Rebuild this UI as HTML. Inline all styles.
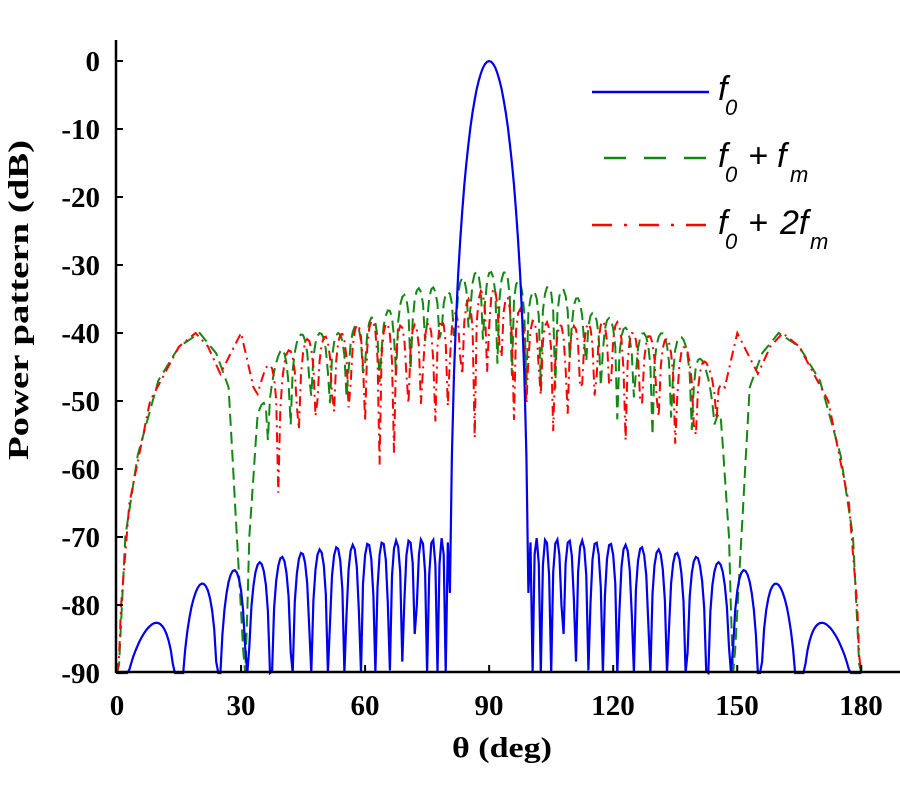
<!DOCTYPE html>
<html><head><meta charset="utf-8"><style>
html,body{margin:0;padding:0;background:#fff;}
svg{display:block;}
.t{font-family:"Liberation Serif",serif;font-weight:bold;font-size:29px;fill:#000;}
.lg{font-family:"Liberation Sans",sans-serif;font-style:italic;font-size:34px;fill:#000;}
.sb{font-family:"Liberation Sans",sans-serif;font-style:italic;font-size:22px;fill:#000;}
</style></head><body>
<svg id="s" width="900" height="800" viewBox="0 0 900 800" xmlns="http://www.w3.org/2000/svg">
<g id="curves"></g>
<line x1="116" y1="40" x2="116" y2="673" stroke="#000" stroke-width="2.5"/>
<line x1="115" y1="672" x2="900" y2="672" stroke="#000" stroke-width="2.5"/>
<g id="ticks" stroke="#000" stroke-width="2"></g>
<g class="t" text-anchor="end">
<text x="100" y="71">0</text><text x="100" y="139">-10</text><text x="100" y="207">-20</text>
<text x="100" y="275">-30</text><text x="100" y="343">-40</text><text x="100" y="411">-50</text>
<text x="100" y="479">-60</text><text x="100" y="547">-70</text><text x="100" y="615">-80</text>
<text x="100" y="683">-90</text></g>
<g class="t" text-anchor="middle">
<text x="117" y="715">0</text><text x="241" y="715">30</text><text x="365" y="715">60</text>
<text x="489" y="715">90</text><text x="613" y="715">120</text><text x="737" y="715">150</text>
<text x="861" y="715">180</text>
<text x="502" y="757" textLength="100" lengthAdjust="spacingAndGlyphs">θ (deg)</text>
<text transform="translate(28,300) rotate(-90)" textLength="320" lengthAdjust="spacingAndGlyphs">Power pattern (dB)</text></g>
<line x1="592" y1="92" x2="709" y2="92" stroke="#0000ee" stroke-width="2.5"/>
<line x1="604" y1="158" x2="709" y2="158" stroke="#118811" stroke-width="2.5" stroke-dasharray="22,18"/>
<line x1="592" y1="225" x2="709" y2="225" stroke="#ff0000" stroke-width="2.5" stroke-dasharray="20,12,3,12"/>
<text class="lg" x="718" y="100">f</text><text class="sb" x="725" y="115">0</text>
<text class="lg" x="718" y="167">f</text><text class="sb" x="725" y="182">0</text><text class="lg" x="748" y="167">+</text><text class="lg" x="777" y="167">f</text><text class="sb" x="790" y="182">m</text>
<text class="lg" x="718" y="234">f</text><text class="sb" x="725" y="249">0</text><text class="lg" x="748" y="234">+</text><text class="lg" x="780" y="234">2f</text><text class="sb" x="810" y="249">m</text>
</svg>
<script>
var X=function(d){return 117+d*4.135;},Y=function(v){v=Math.max(-90,Math.min(0,v));return 61+(-v)*6.8;};
var g=document.getElementById('curves'),tk=document.getElementById('ticks'),ns='http://www.w3.org/2000/svg';
function add(tag,at,p){var e=document.createElementNS(ns,tag);for(var k in at)e.setAttribute(k,at[k]);(p||g).appendChild(e);}
for(var i=0;i<=9;i++){var y=61+i*68;add('line',{x1:116,y1:y,x2:123,y2:y},tk);}
for(var i=1;i<=6;i++){var x=X(i*30);add('line',{x1:x,y1:672,x2:x,y2:665},tk);}
function lerp(pts,d){for(var i=0;i<pts.length-1;i++){if(d>=pts[i][0]&&d<=pts[i+1][0]){var t=(d-pts[i][0])/(pts[i+1][0]-pts[i][0]);return pts[i][1]+t*(pts[i+1][1]-pts[i][1]);}}return pts[pts.length-1][1];}
function cosh(x){return (Math.exp(x)+Math.exp(-x))/2;}
function acosh(x){return Math.log(x+Math.sqrt(x*x-1));}
function T(n,x){if(Math.abs(x)<=1)return Math.cos(n*Math.acos(x));var s=x>0?1:(n%2?-1:1);return s*cosh(n*acosh(Math.abs(x)));}
var N=40,R=Math.pow(10,70/20),x0=cosh(acosh(R)/(N-1));
var pb=[];
for(var d=0;d<=180;d+=0.5){var th=d*Math.PI/180,u=Math.cos(th),psi=2*Math.PI*0.44*u;
var v=20*Math.log10(Math.abs(T(N-1,x0*Math.cos(psi/2)))/R+1e-9)+15*Math.log10(Math.max(Math.sin(th),1e-4));
pb.push(X(d).toFixed(1)+','+Y(v).toFixed(1));}
function side(env,period,phase,depth,dstart){var p=[];for(var d=0;d<=180;d+=0.5){var th=d*Math.PI/180,u=Math.cos(th);
var dd=d<=90?d:180-d;var k=Math.max(0,Math.min(1,(dd-dstart)/6));
var c=Math.abs(Math.cos(Math.PI*(u/period)+phase));var r=Math.max(20*Math.log10(c+1e-3),-30)*depth*k;
var e=lerp(env,dd);p.push(X(d).toFixed(1)+','+Y(e+r).toFixed(1));}return p;}
var envG=[[0,-95],[2,-70],[5,-58],[10,-47],[15,-42],[20,-40],[24,-43],[27,-48],[29,-70],[31,-92],[32,-70],[34,-52],[37,-46],[40,-42],[45,-40],[55,-40],[60,-38],[65,-37],[70,-34],[75,-33],[80,-34],[85,-31],[90,-31]];
var envR=[[0,-95],[1,-80],[3,-65],[8,-50],[15,-42],[19,-40],[22,-42],[25,-46],[30,-40],[33,-48],[36,-45],[45,-41],[55,-40],[60,-38],[70,-39],[80,-38],[85,-35],[90,-33]];
var pg=side(envG,0.06,0.3,0.5,33),pr=side(envR,0.055,1.2,0.7,33);
add('polyline',{points:pg.join(' '),fill:'none',stroke:'#118811','stroke-width':2,'stroke-dasharray':'12,6'});
add('polyline',{points:pr.join(' '),fill:'none',stroke:'#ff0000','stroke-width':2,'stroke-dasharray':'10,5,2,5'});
add('polyline',{points:pb.join(' '),fill:'none',stroke:'#0000ee','stroke-width':2.2});
</script>
</body></html>
